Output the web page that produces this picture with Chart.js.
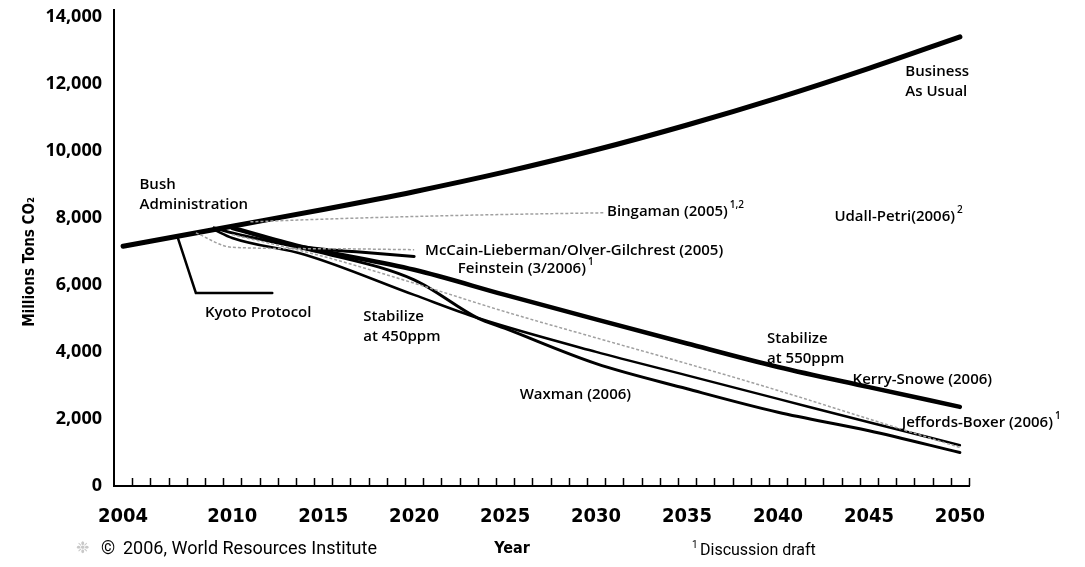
<!DOCTYPE html>
<html>
<head>
<meta charset="utf-8">
<title>US CO2 emission proposals</title>
<script src="https://cdn.jsdelivr.net/npm/chart.js@4.4.0/dist/chart.umd.min.js"></script>
<style>
    html, body { margin: 0; padding: 0; background: #fff; }
    #chart { display: block; }
</style>
</head>
<body>
<canvas id="chart" width="1085" height="567"></canvas>
<script>
// Emission paths (million tons CO2)
const bauYears = [2004, 2010, 2015, 2020, 2025, 2030, 2035, 2040, 2045, 2050];
const bauValues = [7150, 7750, 8250, 8780, 9370, 10030, 10770, 11580, 12460, 13400];

const kyotoYears = [2007, 2008, 2012.2];
const kyotoValues = [7420, 5760, 5760];

const bingamanYears = [2011, 2015, 2020, 2025, 2030.4];
const bingamanValues = [7880, 7960, 8040, 8100, 8150];

const mccainYears = [2008, 2010, 2015, 2020];
const mccainValues = [7550, 7120, 7080, 7050];

const feinsteinYears = [2010, 2013.7, 2017, 2020];
const feinsteinValues = [7700, 7150, 6980, 6850];

const kerryYears = [2010, 2013.7, 2015, 2020, 2025, 2030, 2035, 2040, 2045, 2050];
const kerryValues = [7700, 7150, 7000, 6450, 5700, 4970, 4250, 3550, 2950, 2360];

const jeffordsYears = [2010, 2015, 2020, 2025, 2030, 2035, 2040, 2045, 2050];
const jeffordsValues = [7500, 6850, 6050, 5200, 4420, 3650, 2850, 2000, 1150];

const stab450Years = [2009, 2010, 2014, 2020, 2023.5, 2030, 2035, 2040, 2045, 2050];
const stab450Values = [7650, 7400, 6900, 5700, 5010, 4000, 3300, 2600, 1900, 1220];

const waxmanYears = [2009, 2010, 2015, 2020, 2023.5, 2025, 2030, 2035, 2040, 2045, 2050];
const waxmanValues = [7700, 7550, 6950, 6150, 5010, 4700, 3650, 2900, 2200, 1650, 1000];

// Axis ticks
const xTickYears = [2004, 2010, 2015, 2020, 2025, 2030, 2035, 2040, 2045, 2050];
const yTickValues = [0, 2000, 4000, 6000, 8000, 10000, 12000, 14000];

// Text placed on the plot, anchored in data units (left edge, vertical middle)
const annotationLabels = [
    { lines: ['Bush', 'Administration'], year: 2004.9, value: 8980 },
    { lines: ['Business', 'As Usual'], year: 2047.0, value: 12350 },
    { lines: ['Bingaman (2005)'], sup: '1,2', year: 2030.6, value: 8170 },
    { lines: ['Udall-Petri(2006)'], sup: '2', year: 2043.1, value: 8020 },
    { lines: ['McCain-Lieberman/Olver-Gilchrest (2005)'], year: 2020.6, value: 7010 },
    { lines: ['Feinstein (3/2006)'], sup: '1', year: 2022.4, value: 6470 },
    { lines: ['Kyoto Protocol'], year: 2008.5, value: 5160 },
    { lines: ['Stabilize', 'at 450ppm'], year: 2017.2, value: 5040 },
    { lines: ['Stabilize', 'at 550ppm'], year: 2039.4, value: 4380 },
    { lines: ['Waxman (2006)'], year: 2025.8, value: 2730 },
    { lines: ['Kerry-Snowe (2006)'], year: 2044.1, value: 3160 },
    { lines: ['Jeffords-Boxer (2006)'], sup: '1', year: 2046.8, value: 1880 }
];

const LABEL_FONT = "600 15px 'Open Sans', sans-serif";
const SUP_FONT = "600 10px 'Open Sans', sans-serif";

// minor tick marks sit between the years
const minorTicks = [];
for (let yr = 2004.5; yr <= 2050.5; yr += 1) minorTicks.push(yr);

function points(years, values) {
    return years.map((yr, i) => ({ x: yr, y: values[i] }));
}

function solid(label, years, values, width) {
    return {
        label: label,
        data: points(years, values),
        borderColor: '#000',
        borderWidth: width,
        cubicInterpolationMode: 'monotone',
        borderCapStyle: 'round'
    };
}

function dotted(label, years, values) {
    return {
        label: label,
        data: points(years, values),
        borderColor: '#a0a0a0',
        borderWidth: 1.5,
        borderDash: [3, 2],
        cubicInterpolationMode: 'monotone'
    };
}

/**
 * Draws the in-plot labels, the minor axis ticks and the footer texts
 */
const decorationsPlugin = {
    id: 'decorations',
    afterDraw(chart) {
        const { ctx, scales: { x, y } } = chart;
        ctx.save();

        // minor ticks pointing up from the x axis
        ctx.strokeStyle = '#000';
        ctx.lineWidth = 1.5;
        const axisY = y.getPixelForValue(0);
        minorTicks.forEach(yr => {
            const px = Math.round(x.getPixelForValue(yr)) + 0.5;
            ctx.beginPath();
            ctx.moveTo(px, axisY);
            ctx.lineTo(px, axisY - 8);
            ctx.stroke();
        });

        // labels on the plot
        ctx.fillStyle = '#000';
        ctx.textBaseline = 'middle';
        ctx.textAlign = 'left';
        annotationLabels.forEach(item => {
            const px = x.getPixelForValue(item.year);
            const py = y.getPixelForValue(item.value);
            ctx.font = LABEL_FONT;
            item.lines.forEach((line, i) => {
                ctx.fillText(line, px, py + i * 20);
            });
            if (item.sup) {
                const w = ctx.measureText(item.lines[0]).width;
                ctx.font = SUP_FONT;
                ctx.fillText(item.sup, px + w + 2, py - 7);
            }
        });

        // y axis title
        ctx.save();
        ctx.translate(30, 262);
        ctx.rotate(-Math.PI / 2);
        ctx.textAlign = 'center';
        ctx.font = "bold 15px 'DejaVu Sans Condensed', 'Liberation Sans Narrow', sans-serif";
        ctx.fillText('Millions Tons CO\u2082', 0, 0);
        ctx.restore();

        // footer
        ctx.textAlign = 'left';
        ctx.fillStyle = '#c8c8c8';
        ctx.font = "16px 'DejaVu Sans', sans-serif";
        ctx.fillText('\u2749', 76, 549);
        ctx.fillStyle = '#000';
        ctx.font = "18px Roboto, sans-serif";
        ctx.fillText('\u00a9', 101, 549);
        ctx.fillText('2006, World Resources Institute', 123, 549);
        ctx.font = "bold 16px 'DejaVu Sans Condensed', 'Liberation Sans Narrow', sans-serif";
        ctx.textAlign = 'center';
        ctx.fillText('Year', 512, 549);
        ctx.textAlign = 'left';
        ctx.font = "10px Roboto, sans-serif";
        ctx.fillText('1', 692, 545);
        ctx.font = "16px Roboto, sans-serif";
        ctx.fillText('Discussion draft', 700, 551);

        ctx.restore();
    }
};

document.addEventListener('DOMContentLoaded', () => {
    const ctx = document.getElementById('chart').getContext('2d');

    new Chart(ctx, {
        type: 'line',
        data: {
            datasets: [
                dotted('Bingaman (2005)', bingamanYears, bingamanValues),
                dotted('McCain-Lieberman/Olver-Gilchrest (2005)', mccainYears, mccainValues),
                dotted('Jeffords-Boxer (2006)', jeffordsYears, jeffordsValues),
                solid('Feinstein (3/2006)', feinsteinYears, feinsteinValues, 3),
                solid('Stabilize at 450ppm', stab450Years, stab450Values, 2.5),
                solid('Waxman (2006)', waxmanYears, waxmanValues, 3),
                solid('Kerry-Snowe (2006)', kerryYears, kerryValues, 4.5),
                Object.assign(solid('Kyoto Protocol', kyotoYears, kyotoValues, 2.5), { cubicInterpolationMode: 'default', tension: 0 }),
                solid('Business As Usual', bauYears, bauValues, 5)
            ]
        },
        options: {
            responsive: false,
            animation: false,
            layout: { padding: { top: 10, right: 116, left: 0, bottom: 0 } },
            elements: { point: { radius: 0 } },
            plugins: {
                legend: { display: false },
                tooltip: { enabled: false }
            },
            scales: {
                x: {
                    type: 'linear',
                    min: 2003.5,
                    max: 2050.5,
                    grid: { display: false, drawTicks: false },
                    border: { display: true, color: '#000', width: 2 },
                    ticks: {
                        color: '#000',
                        padding: 19,
                        maxRotation: 0,
                        autoSkip: false,
                        font: { family: "'DejaVu Sans Condensed', 'Liberation Sans Narrow', sans-serif", size: 20, weight: 'bold' },
                        callback: (value) => String(value)
                    },
                    afterBuildTicks: (scale) => {
                        scale.ticks = xTickYears.map(v => ({ value: v }));
                    },
                    afterFit: (scale) => {
                        scale.height = 81;
                        scale.paddingLeft = 0;
                        scale.paddingRight = 0;
                    }
                },
                y: {
                    min: 0,
                    max: 14200,
                    grid: { display: false, drawTicks: false },
                    border: { display: true, color: '#000', width: 2 },
                    ticks: {
                        color: '#000',
                        padding: 12,
                        font: { family: "'Open Sans', sans-serif", size: 18, weight: 'bold' },
                        callback: (value) => value.toLocaleString('en-US')
                    },
                    afterBuildTicks: (scale) => {
                        scale.ticks = yTickValues.map(v => ({ value: v }));
                    },
                    afterFit: (scale) => {
                        scale.width = 114;
                        scale.paddingTop = 0;
                        scale.paddingBottom = 0;
                    }
                }
            }
        },
        plugins: [decorationsPlugin]
    });
});
</script>
</body>
</html>
